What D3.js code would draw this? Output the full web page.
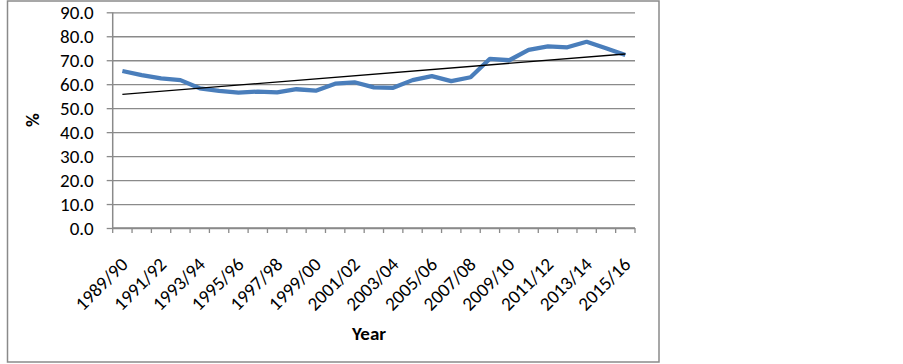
<!DOCTYPE html>
<html>
<head>
<meta charset="utf-8">
<script src="https://cdn.jsdelivr.net/npm/d3@7"></script>
<style>
  body { margin: 0; background: #fff; }
  svg text { font-family: Carlito, Lato, "Liberation Sans", sans-serif; fill: #000; }
</style>
</head>
<body>
<svg id="chart"></svg>
<script>
// school years on the category axis
var years = ['1989/90', '1990/91', '1991/92', '1992/93', '1993/94', '1994/95', '1995/96',
  '1996/97', '1997/98', '1998/99', '1999/00', '2000/01', '2001/02', '2002/03', '2003/04',
  '2004/05', '2005/06', '2006/07', '2007/08', '2008/09', '2009/10', '2010/11', '2011/12',
  '2012/13', '2013/14', '2014/15', '2015/16'];

// percentage
var percent = [65.5, 63.8, 62.4, 61.7, 58.3, 57.2, 56.5, 56.9, 56.6, 57.9, 57.3, 60.2, 60.8,
  58.7, 58.5, 61.7, 63.4, 61.3, 62.9, 70.6, 70.0, 74.3, 75.8, 75.4, 77.7, 75.0, 72.2];

var yTicks = [0, 10, 20, 30, 40, 50, 60, 70, 80, 90];

var W = 903, H = 364;
var plot = { left: 112.7, right: 635, top: 12.3, bottom: 228 };
var fs = '19px';

var svg = d3.select('#chart')
  .attr('width', W)
  .attr('height', H);

// outer chart border
svg.append('rect')
  .attr('x', 7.5).attr('y', 1)
  .attr('width', 651.5).attr('height', 361)
  .attr('fill', '#fff')
  .attr('stroke', '#8a8a8a')
  .attr('stroke-width', 1.5);

var x = d3.scaleBand()
  .domain(years)
  .range([plot.left, plot.right]);

var y = d3.scaleLinear()
  .domain([0, 90])
  .range([plot.bottom, plot.top]);

var cx = d => x(d) + x.bandwidth() / 2;

// gridlines + y ticks
var yAxis = d3.axisLeft(y)
  .tickValues(yTicks)
  .tickFormat(d3.format('.1f'))
  .tickSize(6)
  .tickPadding(13);

var gy = svg.append('g')
  .attr('transform', `translate(${plot.left},0)`)
  .call(yAxis);
gy.select('.domain').remove();
gy.selectAll('line')
  .attr('x2', -6)
  .attr('stroke', '#8a8a8a')
  .attr('stroke-width', 1.3);
gy.selectAll('.tick').append('line')
  .attr('x1', 0).attr('x2', plot.right - plot.left)
  .attr('stroke', '#8a8a8a')
  .attr('stroke-width', 1.3);
gy.selectAll('text')
  .style('font-size', fs);

// y axis line
svg.append('line')
  .attr('x1', plot.left).attr('x2', plot.left)
  .attr('y1', plot.top).attr('y2', plot.bottom)
  .attr('stroke', '#8a8a8a')
  .attr('stroke-width', 1.5);

// x axis: ticks on band boundaries
var bounds = years.map(d => x(d)).concat([plot.right]);
var gx = svg.append('g');
gx.append('line')
  .attr('x1', plot.left).attr('x2', plot.right)
  .attr('y1', plot.bottom).attr('y2', plot.bottom)
  .attr('stroke', '#8a8a8a')
  .attr('stroke-width', 1.5);
gx.selectAll('.xt')
  .data(bounds)
  .enter().append('line')
    .attr('x1', d => d).attr('x2', d => d)
    .attr('y1', plot.bottom).attr('y2', plot.bottom + 5)
    .attr('stroke', '#8a8a8a')
    .attr('stroke-width', 1.3);

// every other label, rotated
gx.selectAll('.xl')
  .data(years.filter((d, i) => i % 2 === 0))
  .enter().append('text')
    .attr('transform', d => `translate(${cx(d) + 2},261) rotate(-45)`)
    .attr('text-anchor', 'end')
    .attr('dominant-baseline', 'central')
    .style('font-size', fs)
    .text(d => d);

// data line
var line = d3.line()
  .x((d, i) => cx(years[i]))
  .y(d => y(d));

svg.append('path')
  .datum(percent)
  .attr('d', line)
  .attr('fill', 'none')
  .attr('stroke', '#4a7ebb')
  .attr('stroke-width', 4.3)
  .attr('stroke-linejoin', 'round');

// linear trendline (least squares)
var n = percent.length;
var mx = d3.mean(percent, (d, i) => i);
var my = d3.mean(percent);
var slope = d3.sum(percent, (d, i) => (i - mx) * (d - my)) / d3.sum(percent, (d, i) => (i - mx) * (i - mx));
var icpt = my - slope * mx;
var trend = [0, n - 1].map(i => [cx(years[i]), y(icpt + slope * i)]);

svg.append('path')
  .attr('d', d3.line()(trend))
  .attr('fill', 'none')
  .attr('stroke', '#000')
  .attr('stroke-width', 1.3);

// axis titles
svg.append('text')
  .attr('transform', `translate(39,${(plot.top + plot.bottom) / 2}) rotate(-90)`)
  .attr('text-anchor', 'middle')
  .style('font-size', fs)
  .style('font-weight', 'bold')
  .text('%');

svg.append('text')
  .attr('x', 369).attr('y', 340)
  .attr('text-anchor', 'middle')
  .style('font-size', fs)
  .style('font-weight', 'bold')
  .text('Year');
</script>
</body>
</html>
